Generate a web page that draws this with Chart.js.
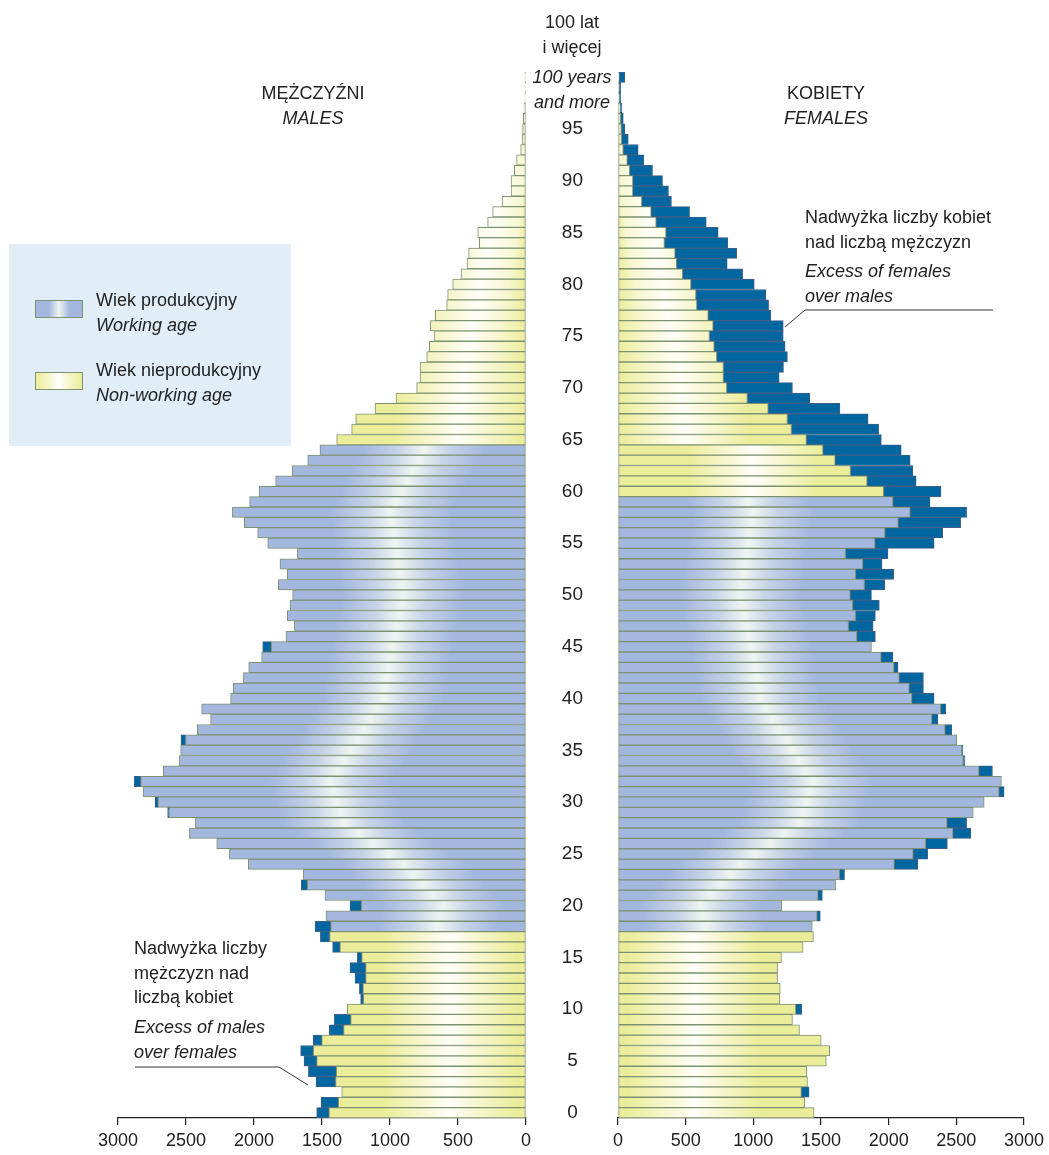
<!DOCTYPE html>
<html lang="pl">
<head>
<meta charset="utf-8">
<title>Ludność według płci i wieku</title>
<script src="https://cdn.jsdelivr.net/npm/chart.js@4.4.1/dist/chart.umd.min.js"></script>
<style>
  body { margin: 0; background: #fff; font-family: 'Liberation Sans', Arial, sans-serif; color: #222; }
  #wrap { position: relative; width: 1049px; height: 1155px; overflow: hidden; }
  canvas { position: absolute; left: 0; top: 0; }
  .txt { position: absolute; font-size: 18px; line-height: 24.5px; white-space: nowrap; z-index: 5; }
  .mid { text-align: center; transform: translateX(-50%); }
  .it { font-style: italic; }
  #legend { position: absolute; left: 9px; top: 244px; width: 282px; height: 202px; background: #e1eef8; }
  .sw { position: absolute; left: 26px; width: 46px; height: 16px; border: 1px solid #7d9270; }
  #sw1 { top: 56px; background: linear-gradient(to right, #a3b7df 0%, #a3b7df 28%, #eef4f1 50%, #a3b7df 72%, #a3b7df 100%); }
  #sw2 { top: 128px; background: linear-gradient(to right, #eced9b 0%, #f8f8d8 35%, #ffffff 50%, #f8f8d8 65%, #eced9b 100%); }
  svg { position: absolute; left: 0; top: 0; z-index: 4; }
</style>
</head>
<body>
<div id="wrap">
  <canvas id="males" width="1049" height="1155"></canvas>
  <canvas id="females" width="1049" height="1155"></canvas>

  <div class="txt mid" style="left:313px; top:81px;">MĘŻCZYŹNI<br><span class="it">MALES</span></div>
  <div class="txt mid" style="left:826px; top:81px;">KOBIETY<br><span class="it">FEMALES</span></div>
  <div class="txt mid" style="left:572px; top:10px;">100 lat<br>i więcej</div>
  <div class="txt mid it" style="left:572px; top:65px;">100 years<br>and more</div>

  <div id="legend">
    <div class="sw" id="sw1"></div>
    <div class="sw" id="sw2"></div>
    <div class="txt" style="left:87px; top:44px;">Wiek produkcyjny<br><span class="it">Working age</span></div>
    <div class="txt" style="left:87px; top:114px;">Wiek nieprodukcyjny<br><span class="it">Non-working age</span></div>
  </div>

  <div class="txt" style="left:805px; top:205px;">Nadwyżka liczby kobiet<br>nad liczbą mężczyzn</div>
  <div class="txt it" style="left:805px; top:259px;">Excess of females<br>over males</div>
  <div class="txt" style="left:134px; top:936px;">Nadwyżka liczby<br>mężczyzn nad<br>liczbą kobiet</div>
  <div class="txt it" style="left:134px; top:1015px;">Excess of males<br>over females</div>

  <svg width="1049" height="1155">
    <polyline points="993,310 805,310 785,327" fill="none" stroke="#333" stroke-width="1"/>
    <polyline points="135,1067 279,1067 308,1085" fill="none" stroke="#333" stroke-width="1"/>
  </svg>
</div>

<script>
// one entry per single year of age, 0 .. 100 (the last one is "100 and more")
const ages = Array.from({ length: 101 }, (_, i) => i);

const males = [
  1539, 1507, 1355, 1544, 1600, 1632, 1657, 1564, 1446, 1409,
  1314, 1216, 1225, 1257, 1294, 1240, 1422, 1512, 1551, 1471,
  1294, 1478, 1652, 1637, 2042, 2181, 2274, 2475, 2431, 2635,
  2728, 2816, 2880, 2667, 2551, 2539, 2537, 2417, 2319, 2385,
  2172, 2152, 2078, 2039, 1944, 1936, 1765, 1703, 1755, 1735,
  1716, 1821, 1755, 1809, 1681, 1899, 1973, 2071, 2159, 2032,
  1963, 1841, 1718, 1605, 1515, 1392, 1282, 1252, 1110, 956,
  804, 779, 779, 730, 711, 676, 703, 667, 583, 576,
  539, 478, 434, 422, 343, 355, 282, 245, 176, 110,
  110, 86, 69, 39, 26, 25, 20, 15, 8, 6,
  8
];

const females = [
  1449, 1380, 1412, 1400, 1395, 1539, 1564, 1502, 1341, 1289,
  1358, 1196, 1199, 1179, 1179, 1208, 1368, 1444, 1436, 1495,
  1211, 1510, 1608, 1674, 2216, 2289, 2434, 2608, 2576, 2625,
  2706, 2853, 2833, 2767, 2564, 2547, 2503, 2466, 2363, 2422,
  2336, 2257, 2257, 2069, 2032, 1873, 1902, 1885, 1902, 1931,
  1873, 1971, 2037, 1951, 1995, 2336, 2399, 2532, 2576, 2306,
  2387, 2203, 2179, 2159, 2093, 1946, 1926, 1848, 1640, 1417,
  1289, 1191, 1223, 1252, 1235, 1221, 1221, 1130, 1113, 1093,
  1007, 921, 807, 877, 811, 740, 652, 529, 395, 373,
  329, 255, 191, 149, 76, 51, 39, 29, 20, 20,
  50
];

const xTicks = [0, 500, 1000, 1500, 2000, 2500, 3000];
const workingAge = { m: [18, 64], f: [18, 59] };

// common part of each bar and the surplus of one sex over the other
const common = ages.map(a => Math.min(males[a], females[a]));
const maleExcess = ages.map(a => Math.max(0, males[a] - females[a]));
const femaleExcess = ages.map(a => Math.max(0, females[a] - males[a]));

// where the light streak of the bar shading sits (style only)
const workGlow = [[18, 650], [20, 610], [24, 900], [28, 1340], [32, 1440], [36, 1240], [40, 1050], [44, 1000], [50, 900], [58, 1000], [64, 750]];
const restGlow = [[0, 560], [17, 560], [60, 1000], [64, 1000], [65, 500], [72, 450], [85, 250], [100, 100]];

function glowAt(age, pts) {
  if (age <= pts[0][0]) return pts[0][1];
  for (let i = 1; i < pts.length; i++) {
    if (age <= pts[i][0]) {
      const [a0, v0] = pts[i - 1], [a1, v1] = pts[i];
      return v0 + (v1 - v0) * (age - a0) / (a1 - a0);
    }
  }
  return pts[pts.length - 1][1];
}

function barFill(context, side) {
  const chart = context.chart;
  const sx = chart.scales.x;
  const age = context.dataIndex;
  const working = age >= workingAge[side][0] && age <= workingAge[side][1];
  const base = working ? '#a3b7df' : '#eced9b';
  if (!sx || !chart.chartArea) return base;
  const p0 = sx.getPixelForValue(0), p1 = sx.getPixelForValue(3000);
  if (!isFinite(p0) || !isFinite(p1) || p0 === p1) return base;
  const mid = working ? '#c8d5e8' : '#f7f7d2';
  const light = working ? '#eef4f1' : '#fefef8';
  const g = chart.ctx.createLinearGradient(p0, 0, p1, 0);
  const c = glowAt(age, working ? workGlow : restGlow) / 3000;
  const w = working ? 0.15 : 0.16;
  const stop = (t, col) => g.addColorStop(Math.min(1, Math.max(0, t)), col);
  stop(0, base);
  stop(c - w, base);
  stop(c - w * 0.4, mid);
  stop(c, light);
  stop(c + w * 0.4, mid);
  stop(c + w, base);
  stop(1, base);
  return g;
}

Chart.defaults.font.family = "'Liberation Sans', Arial, sans-serif";
Chart.defaults.color = '#222';

function xScale(reverse) {
  return {
    type: 'linear',
    reverse: reverse,
    min: 0,
    max: 3000,
    stacked: true,
    afterBuildTicks: s => { s.ticks = xTicks.map(v => ({ value: v })); },
    afterFit: s => { s.height = 37; },
    ticks: { font: { size: 18 }, color: '#222', padding: 5, maxRotation: 0, callback: v => String(v) },
    grid: { display: true, drawOnChartArea: false, drawTicks: true, tickLength: 7, tickColor: '#222', lineWidth: 1.2 },
    border: { display: true, color: '#222', width: 1.2 }
  };
}

function datasets(side, excess) {
  return [
    {
      data: common,
      backgroundColor: ctx => barFill(ctx, side),
      borderColor: '#7d9270',
      borderWidth: 1,
      borderSkipped: false,
      stack: 'p'
    },
    {
      data: excess,
      backgroundColor: '#00669f',
      borderColor: '#3f6088',
      borderWidth: 1,
      borderSkipped: false,
      stack: 'p'
    }
  ];
}

const shared = {
  indexAxis: 'y',
  responsive: false,
  animation: false,
  events: [],
  datasets: { bar: { barPercentage: 1, categoryPercentage: 1 } },
  plugins: { legend: { display: false }, tooltip: { enabled: false } }
};

const maleChart = new Chart(document.getElementById('males'), {
  type: 'bar',
  data: { labels: ages, datasets: datasets('m', maleExcess) },
  options: {
    ...shared,
    layout: { padding: { left: 118, right: 523, top: 72, bottom: 0 } },
    scales: {
      x: xScale(true),
      y: { display: false, reverse: true, stacked: true }
    }
  }
});

const femaleChart = new Chart(document.getElementById('females'), {
  type: 'bar',
  data: { labels: ages, datasets: datasets('f', femaleExcess) },
  options: {
    ...shared,
    layout: { padding: { left: 526, right: 23, top: 72, bottom: 0 } },
    scales: {
      x: xScale(false),
      y: {
        position: 'left',
        reverse: true,
        stacked: true,
        // fixed gap between the two halves; the label padding must not shrink the plot
        afterFit: s => { s.width = 92; s.paddingTop = 0; s.paddingBottom = 0; },
        grid: { display: false, drawTicks: false },
        border: { display: false },
        ticks: {
          autoSkip: false,
          crossAlign: 'center',
          padding: 35,
          font: { size: 19 },
          color: '#222',
          callback: (v, i) => (i % 5 === 0 && i < 100) ? String(ages[i]) : ''
        }
      }
    }
  }
});

// second pass so the shading gradients are built on the final scales
maleChart.update();
femaleChart.update();
</script>
</body>
</html>
